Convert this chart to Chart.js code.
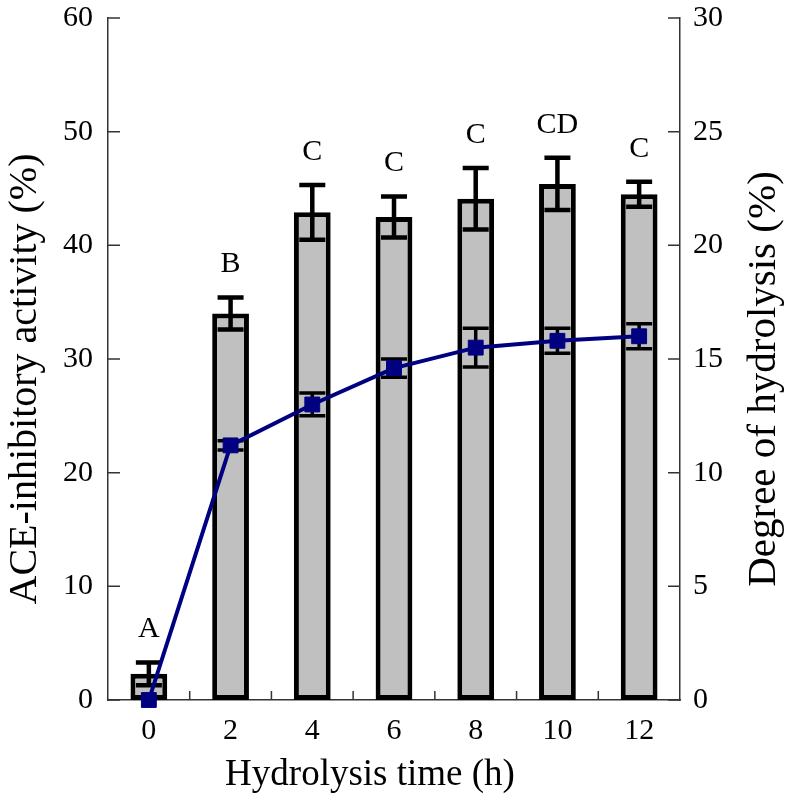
<!DOCTYPE html>
<html>
<head>
<meta charset="utf-8">
<script src="https://cdn.jsdelivr.net/npm/chart.js@4.4.1/dist/chart.umd.min.js"></script>
<style>
  html, body { margin: 0; padding: 0; background: #fff; }
  #wrap { width: 786px; height: 799px; }
</style>
</head>
<body>
<div id="wrap"><canvas id="hydrolysis"></canvas></div>
<script>
// hydrolysis time (h)
const hours = ['0', '2', '4', '6', '8', '10', '12'];
// ACE-inhibitory activity (%), bars, left axis
const aceActivity = [2.3, 34.0, 42.9, 42.5, 44.1, 45.4, 44.5];
const aceError = [1.0, 1.4, 2.4, 1.8, 2.7, 2.3, 1.1];
const aceGroups = ['A', 'B', 'C', 'C', 'C', 'CD', 'C'];
// degree of hydrolysis (%), line, right axis
const degreeHydrolysis = [0, 11.2, 13.0, 14.6, 15.5, 15.8, 16.0];
const degreeError = [0, 0.2, 0.5, 0.4, 0.85, 0.55, 0.55];
// axis ranges
const aceRange = [0, 60, 10];
const degreeRange = [0, 30, 5];

const serif = 'Liberation Serif';

// error bars + letters, drawn right after the bars so the line sits on top
const errorBars = {
  id: 'errorBars',
  afterDatasetDraw(chart, args) {
    if (args.index !== 0) return;
    const ctx = chart.ctx;
    const x = chart.scales.x, yl = chart.scales.y, yr = chart.scales.y2;
    ctx.save();
    ctx.strokeStyle = '#000';
    for (let i = 0; i < hours.length; i++) {
      const px = x.getPixelForValue(i);
      // bars
      let top = yl.getPixelForValue(aceActivity[i] + aceError[i]);
      let bot = yl.getPixelForValue(aceActivity[i] - aceError[i]);
      ctx.lineWidth = 4.5;
      ctx.beginPath();
      ctx.moveTo(px, top); ctx.lineTo(px, bot);
      ctx.moveTo(px - 13, top); ctx.lineTo(px + 13, top);
      ctx.moveTo(px - 13, bot); ctx.lineTo(px + 13, bot);
      ctx.stroke();
      ctx.fillStyle = '#000';
      ctx.font = '30px "' + serif + '"';
      ctx.textAlign = 'center';
      ctx.textBaseline = 'middle';
      ctx.fillText(aceGroups[i], px, top - 33);
      // line
      if (degreeError[i] > 0) {
        top = yr.getPixelForValue(degreeHydrolysis[i] + degreeError[i]);
        bot = yr.getPixelForValue(degreeHydrolysis[i] - degreeError[i]);
        ctx.lineWidth = 3.5;
        ctx.beginPath();
        ctx.moveTo(px, top); ctx.lineTo(px, bot);
        ctx.moveTo(px - 13, top); ctx.lineTo(px + 13, top);
        ctx.moveTo(px - 13, bot); ctx.lineTo(px + 13, bot);
        ctx.stroke();
      }
    }
    ctx.restore();
  }
};

// inward tick marks on all three axes, plus the axis titles
const innerTicks = {
  id: 'innerTicks',
  afterDraw(chart) {
    const ctx = chart.ctx;
    const a = chart.chartArea;
    const x = chart.scales.x, yl = chart.scales.y, yr = chart.scales.y2;
    ctx.save();
    ctx.strokeStyle = '#333';
    ctx.lineWidth = 1.5;
    ctx.beginPath();
    yl.ticks.forEach(t => {
      const py = yl.getPixelForValue(t.value);
      ctx.moveTo(a.left, py); ctx.lineTo(a.left + 12, py);
    });
    yr.ticks.forEach(t => {
      const py = yr.getPixelForValue(t.value);
      ctx.moveTo(a.right, py); ctx.lineTo(a.right - 12, py);
    });
    for (let i = 0; i < hours.length - 1; i++) {
      const px = (x.getPixelForValue(i) + x.getPixelForValue(i + 1)) / 2;
      ctx.moveTo(px, a.bottom); ctx.lineTo(px, a.bottom - 9);
    }
    ctx.stroke();

    ctx.fillStyle = '#000';
    ctx.textAlign = 'center';
    ctx.textBaseline = 'middle';
    ctx.font = '37px "' + serif + '"';
    ctx.fillText('Hydrolysis time (h)', a.left + 262, a.bottom + 75);
    const midY = (a.top + a.bottom) / 2 + 20;
    ctx.save();
    ctx.translate(yl.left + 25, midY);
    ctx.rotate(-Math.PI / 2);
    ctx.font = '40px "' + serif + '"';
    ctx.fillText('ACE-inhibitory activity (%)', 0, 0);
    ctx.restore();
    ctx.save();
    ctx.translate(yr.right - 22, midY);
    ctx.rotate(-Math.PI / 2);
    ctx.font = '41px "' + serif + '"';
    ctx.fillText('Degree of hydrolysis (%)', 0, 0);
    ctx.restore();
    ctx.restore();
  }
};

function fixY(width) {
  return function(scale) {
    scale.width = width;
    scale.paddingTop = 18;
    scale.paddingBottom = 0;
  };
}

const ctx = document.getElementById('hydrolysis').getContext('2d');
const hydrolysisChart = new Chart(ctx, {
  type: 'bar',
  data: {
    labels: hours,
    datasets: [{
      type: 'bar',
      label: 'ACE-inhibitory activity',
      data: aceActivity,
      yAxisID: 'y',
      backgroundColor: '#c0c0c0',
      borderColor: '#000',
      borderWidth: 5,
      borderSkipped: false,
      barPercentage: 0.45,
      categoryPercentage: 1,
      order: 1
    }, {
      type: 'line',
      label: 'Degree of hydrolysis',
      data: degreeHydrolysis,
      yAxisID: 'y2',
      borderColor: '#000080',
      backgroundColor: '#000080',
      borderWidth: 4,
      pointStyle: 'rect',
      pointRadius: 10.5,
      pointBorderWidth: 1,
      tension: 0,
      clip: false,
      order: 0
    }]
  },
  options: {
    responsive: true,
    maintainAspectRatio: false,
    animation: false,
    events: [],
    layout: { padding: 0 },
    plugins: {
      legend: { display: false },
      tooltip: { enabled: false }
    },
    scales: {
      x: {
        grid: { display: false, drawTicks: false },
        border: { display: true, color: '#333', width: 1.5 },
        ticks: { color: '#000', font: { family: serif, size: 30 }, padding: 13 },
        afterFit(scale) { scale.height = 99; scale.paddingLeft = 0; scale.paddingRight = 0; }
      },
      y: {
        position: 'left',
        min: aceRange[0], max: aceRange[1],
        grid: { display: false, drawTicks: false },
        border: { display: true, color: '#333', width: 1.5 },
        ticks: { stepSize: aceRange[2], color: '#000', font: { family: serif, size: 30 }, padding: 15 },
        afterFit: fixY(108)
      },
      y2: {
        position: 'right',
        min: degreeRange[0], max: degreeRange[1],
        grid: { display: false, drawTicks: false },
        border: { display: true, color: '#333', width: 1.5 },
        ticks: { stepSize: degreeRange[2], color: '#000', font: { family: serif, size: 30 }, padding: 13 },
        afterFit: fixY(106)
      }
    }
  },
  plugins: [errorBars, innerTicks]
});
</script>
</body>
</html>
